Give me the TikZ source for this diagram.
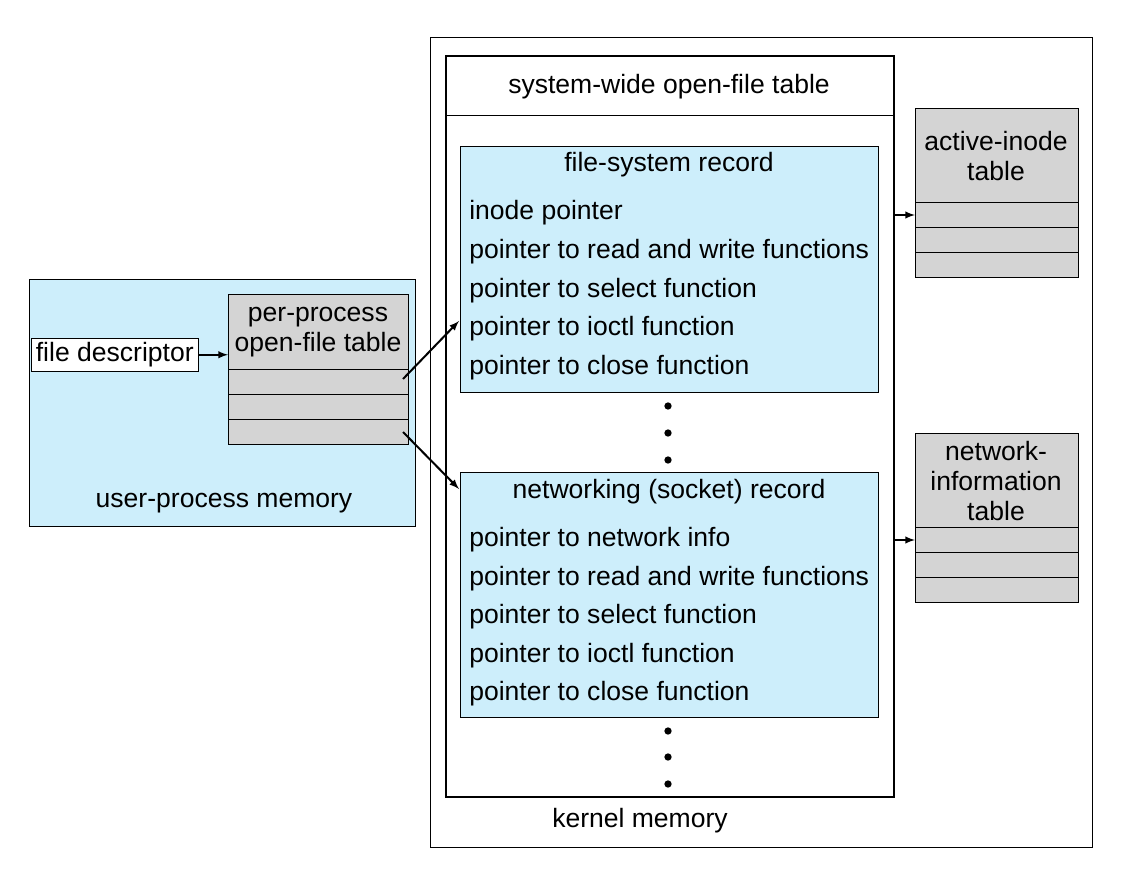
\documentclass[tikz,border=0pt]{standalone}
\usepackage{fontspec}
\setmainfont{Liberation Sans}
\definecolor{memblue}{RGB}{205,238,251}
\definecolor{tblgray}{RGB}{212,212,212}
\tikzset{
  box/.style={draw, inner sep=0pt, anchor=north west},
  txt/.style={inner sep=0pt, font=\fontsize{19.9}{22.5}\selectfont},
  ln/.style={txt, anchor=west},
  dot/.style={circle, fill, inner sep=0pt, minimum size=5.5pt},
  arr/.style={-latex, line width=1.5pt}
}
\begin{document}
\begin{tikzpicture}[x=0.75pt, y=-0.75pt]
  \useasboundingbox (0,0) rectangle (1121,884);
  % user side
  \node[box, fill=memblue, minimum width=289.5pt, minimum height=185.25pt] (user) at (29,279) {};
  \node[txt] at (224,503) {user-process memory};
  \node[box, fill=white, minimum width=125.25pt, minimum height=24.75pt] (fd) at (31,338) {};
  \node[txt] at (fd.center) {file descriptor};
  \node[box, fill=tblgray, minimum width=135pt, minimum height=112.5pt] (ppt) at (228,294) {};
  \node[txt, align=center] at (318,332) {per-process\\open-file table};
  \foreach \y in {369,394,419} \draw (228,\y) -- (408,\y);
  % kernel side
  \node[box, minimum width=496.5pt, minimum height=607.5pt] (kern) at (430,37) {};
  \node[txt] at (640,821) {kernel memory};
  \node[box, line width=1.6pt, fill=white, minimum width=336pt, minimum height=555.75pt] (sys) at (445,55) {};
  \draw (445,115) -- (893,115);
  \node[txt] at (669,87) {system-wide open-file table};
  % file-system record
  \node[box, fill=memblue, minimum width=313.5pt, minimum height=184.5pt] (fsr) at (460,146) {};
  \node[txt] at (669,165) {file-system record};
  \node[ln] at (469,213) {inode pointer};
  \node[ln] at (469,252) {pointer to read and write functions};
  \node[ln] at (469,291) {pointer to select function};
  \node[ln] at (469,329) {pointer to ioctl function};
  \node[ln] at (469,368) {pointer to close function};
  \foreach \y in {406,433,460} \node[dot] at (668,\y) {};
  % networking record
  \node[box, fill=memblue, minimum width=313.5pt, minimum height=183.75pt] (nsr) at (460,472) {};
  \node[txt] at (669,492) {networking (socket) record};
  \node[ln] at (469,540) {pointer to network info};
  \node[ln] at (469,579) {pointer to read and write functions};
  \node[ln] at (469,617) {pointer to select function};
  \node[ln] at (469,656) {pointer to ioctl function};
  \node[ln] at (469,694) {pointer to close function};
  \foreach \y in {731,757,784} \node[dot] at (668,\y) {};
  % tables
  \node[box, fill=tblgray, minimum width=122.25pt, minimum height=126.75pt] (ait) at (915,108) {};
  \node[txt, align=center] at (996,156) {active-inode\\table};
  \foreach \y in {202,227,252} \draw (915,\y) -- (1078,\y);
  \node[box, fill=tblgray, minimum width=122.25pt, minimum height=126.75pt] (nit) at (915,433) {};
  \node[txt, align=center] at (996,481) {network-\\information\\table};
  \foreach \y in {527,552,577} \draw (915,\y) -- (1078,\y);
  % connectors
  \coordinate (p1) at (403,379);
  \coordinate (p2) at (403,432);
  \coordinate (fsin) at (459,321);
  \coordinate (nsin) at (459,489);
  \coordinate (aitin) at (915,215);
  \coordinate (nitin) at (915,540);
  \draw[arr] (fd.east) -- (ppt.west |- fd.east);
  \draw[arr] (p1) -- (fsin);
  \draw[arr] (p2) -- (nsin);
  \draw[arr] (sys.east |- aitin) -- (aitin);
  \draw[arr] (sys.east |- nitin) -- (nitin);
\end{tikzpicture}
\end{document}
